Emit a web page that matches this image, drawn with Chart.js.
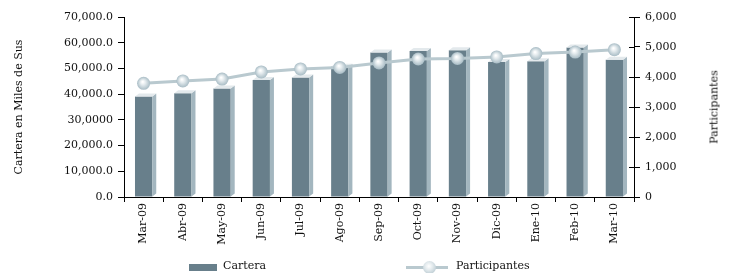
<!DOCTYPE html>
<html>
<head>
<meta charset="utf-8">
<script src="https://cdn.jsdelivr.net/npm/chart.js@4.4.1/dist/chart.umd.min.js"></script>
<style>
  html, body { margin: 0; padding: 0; background: #fff; }
  #wrap { position: relative; width: 730px; height: 273px; }
  canvas { position: absolute; left: 0; top: 0; }
  .lg { position: absolute; font-family: "DejaVu Serif", serif; font-size: 11px; color: #111; white-space: nowrap; }
  #rtitle { position: absolute; font-family: "DejaVu Serif", serif; font-size: 11px; color: #111;
            left: 714px; top: 107px; transform: translate(-50%, -50%) rotate(-90deg); white-space: nowrap; }
</style>
</head>
<body>
<div id="wrap">
  <canvas id="c" width="730" height="273"></canvas>
  <div id="rtitle">Participantes</div>
  <div class="lg" style="left:189px; top:264px; width:28px; height:7px; background:#687f8b;"></div>
  <div class="lg" style="left:223px; top:259px;">Cartera</div>
  <div class="lg" style="left:406px; top:266px; width:42px; height:3px; background:#b9c9cf;"></div>
  <div class="lg" style="left:423px; top:261px; width:13px; height:13px; border-radius:50%; background:radial-gradient(circle at 45% 40%, #ffffff 0%, #e4ebee 35%, #a8bcc5 100%);"></div>
  <div class="lg" style="left:456px; top:259px;">Participantes</div>
</div>
<script>
const categories = ['Mar-09','Abr-09','May-09','Jun-09','Jul-09','Ago-09','Sep-09','Oct-09','Nov-09','Dic-09','Ene-10','Feb-10','Mar-10'];
const cartera = [39100, 40300, 42200, 45500, 46500, 50700, 56200, 56800, 57100, 52500, 52800, 58100, 53400];
const participantes = [3790, 3870, 3930, 4170, 4270, 4320, 4470, 4600, 4620, 4670, 4780, 4830, 4910];
const leftTickLabels = ['0.0','10,000.0','20,000.0','30,0000','40,000.0','50,000.0','60,000.0','70,000.0'];
const rightTickLabels = ['0','1,000','2,000','3,000','4,000','5,000','6,000'];

const FONT = { family: 'DejaVu Serif', size: 11 };
const TXT = '#111';

const bar3d = {
  id: 'bar3d',
  afterDatasetDraw(chart, args) {
    if (args.meta.type !== 'bar') return;
    const ctx = chart.ctx;
    const dx = 4, dy = 3;
    ctx.save();
    args.meta.data.forEach(el => {
      const {x, y, base, width} = el.getProps(['x','y','base','width'], true);
      const l = x - width / 2, r = x + width / 2;
      ctx.fillStyle = '#a3b6bf';
      ctx.beginPath();
      ctx.moveTo(r, y); ctx.lineTo(r + dx, y - dy); ctx.lineTo(r + dx, base - dy); ctx.lineTo(r, base);
      ctx.closePath(); ctx.fill();
      ctx.fillStyle = '#e3e9ec';
      ctx.beginPath();
      ctx.moveTo(l, y); ctx.lineTo(l + dx, y - dy); ctx.lineTo(r + dx, y - dy); ctx.lineTo(r, y);
      ctx.closePath(); ctx.fill();
    });
    ctx.restore();
  }
};

const balls = {
  id: 'balls',
  afterDatasetDraw(chart, args) {
    if (args.meta.type !== 'line') return;
    const ctx = chart.ctx;
    ctx.save();
    args.meta.data.forEach(el => {
      const {x, y} = el.getProps(['x','y'], true);
      const g = ctx.createRadialGradient(x - 1, y - 1.5, 0.5, x, y, 6.5);
      g.addColorStop(0, '#ffffff');
      g.addColorStop(0.35, '#e4ebee');
      g.addColorStop(1, '#a8bcc5');
      ctx.fillStyle = g;
      ctx.beginPath(); ctx.arc(x, y, 6.5, 0, Math.PI * 2); ctx.fill();
    });
    ctx.restore();
  }
};

const rightCross = {
  id: 'rightCross',
  afterDraw(chart) {
    const s = chart.scales.y1;
    const ctx = chart.ctx;
    ctx.save();
    ctx.strokeStyle = '#000'; ctx.lineWidth = 1;
    s.ticks.forEach(t => {
      const py = Math.round(s.getPixelForValue(t.value)) + 0.5;
      ctx.beginPath(); ctx.moveTo(s.left - 5, py); ctx.lineTo(s.left, py); ctx.stroke();
    });
    ctx.restore();
  }
};

new Chart(document.getElementById('c'), {
  type: 'bar',
  data: {
    labels: categories,
    datasets: [
      {
        type: 'line', label: 'Participantes', data: participantes, yAxisID: 'y1', order: 0,
        borderColor: '#b9c9cf', borderWidth: 3, pointRadius: 0, tension: 0
      },
      {
        type: 'bar', label: 'Cartera', data: cartera, yAxisID: 'y', order: 1,
        backgroundColor: '#687f8b', barPercentage: 0.44, categoryPercentage: 1
      }
    ]
  },
  options: {
    responsive: false,
    animation: false,
    layout: { padding: { top: 17, left: 0, right: 0, bottom: 0 } },
    plugins: { legend: { display: false }, tooltip: { enabled: false } },
    scales: {
      x: {
        afterFit(s) { s.height = 76; },
        border: { display: true, color: '#000', width: 1 },
        grid: { display: true, drawOnChartArea: false, drawTicks: true, tickLength: 5, color: '#000', offset: true },
        ticks: { font: FONT, color: TXT, minRotation: 90, maxRotation: 90, padding: 1, autoSkip: false }
      },
      y: {
        position: 'left', min: 0, max: 70000,
        afterFit(s) { s.width = 124; },
        border: { display: true, color: '#000', width: 1 },
        grid: { display: true, drawOnChartArea: false, drawTicks: true, tickLength: 6, color: '#000' },
        ticks: { stepSize: 10000, font: FONT, color: TXT, padding: 5,
                 callback: (v, i) => leftTickLabels[i] },
        title: { display: true, text: 'Cartera en Miles de Sus', font: FONT, color: TXT, padding: { top: 13, bottom: 0 } }
      },
      y1: {
        position: 'right', min: 0, max: 6000,
        afterFit(s) { s.width = 96; },
        border: { display: true, color: '#000', width: 1 },
        grid: { display: true, drawOnChartArea: false, drawTicks: true, tickLength: 6, color: '#000' },
        ticks: { stepSize: 1000, font: FONT, color: TXT, padding: 5,
                 callback: (v, i) => rightTickLabels[i] }
      }
    }
  },
  plugins: [bar3d, balls, rightCross]
});
</script>
</body>
</html>
